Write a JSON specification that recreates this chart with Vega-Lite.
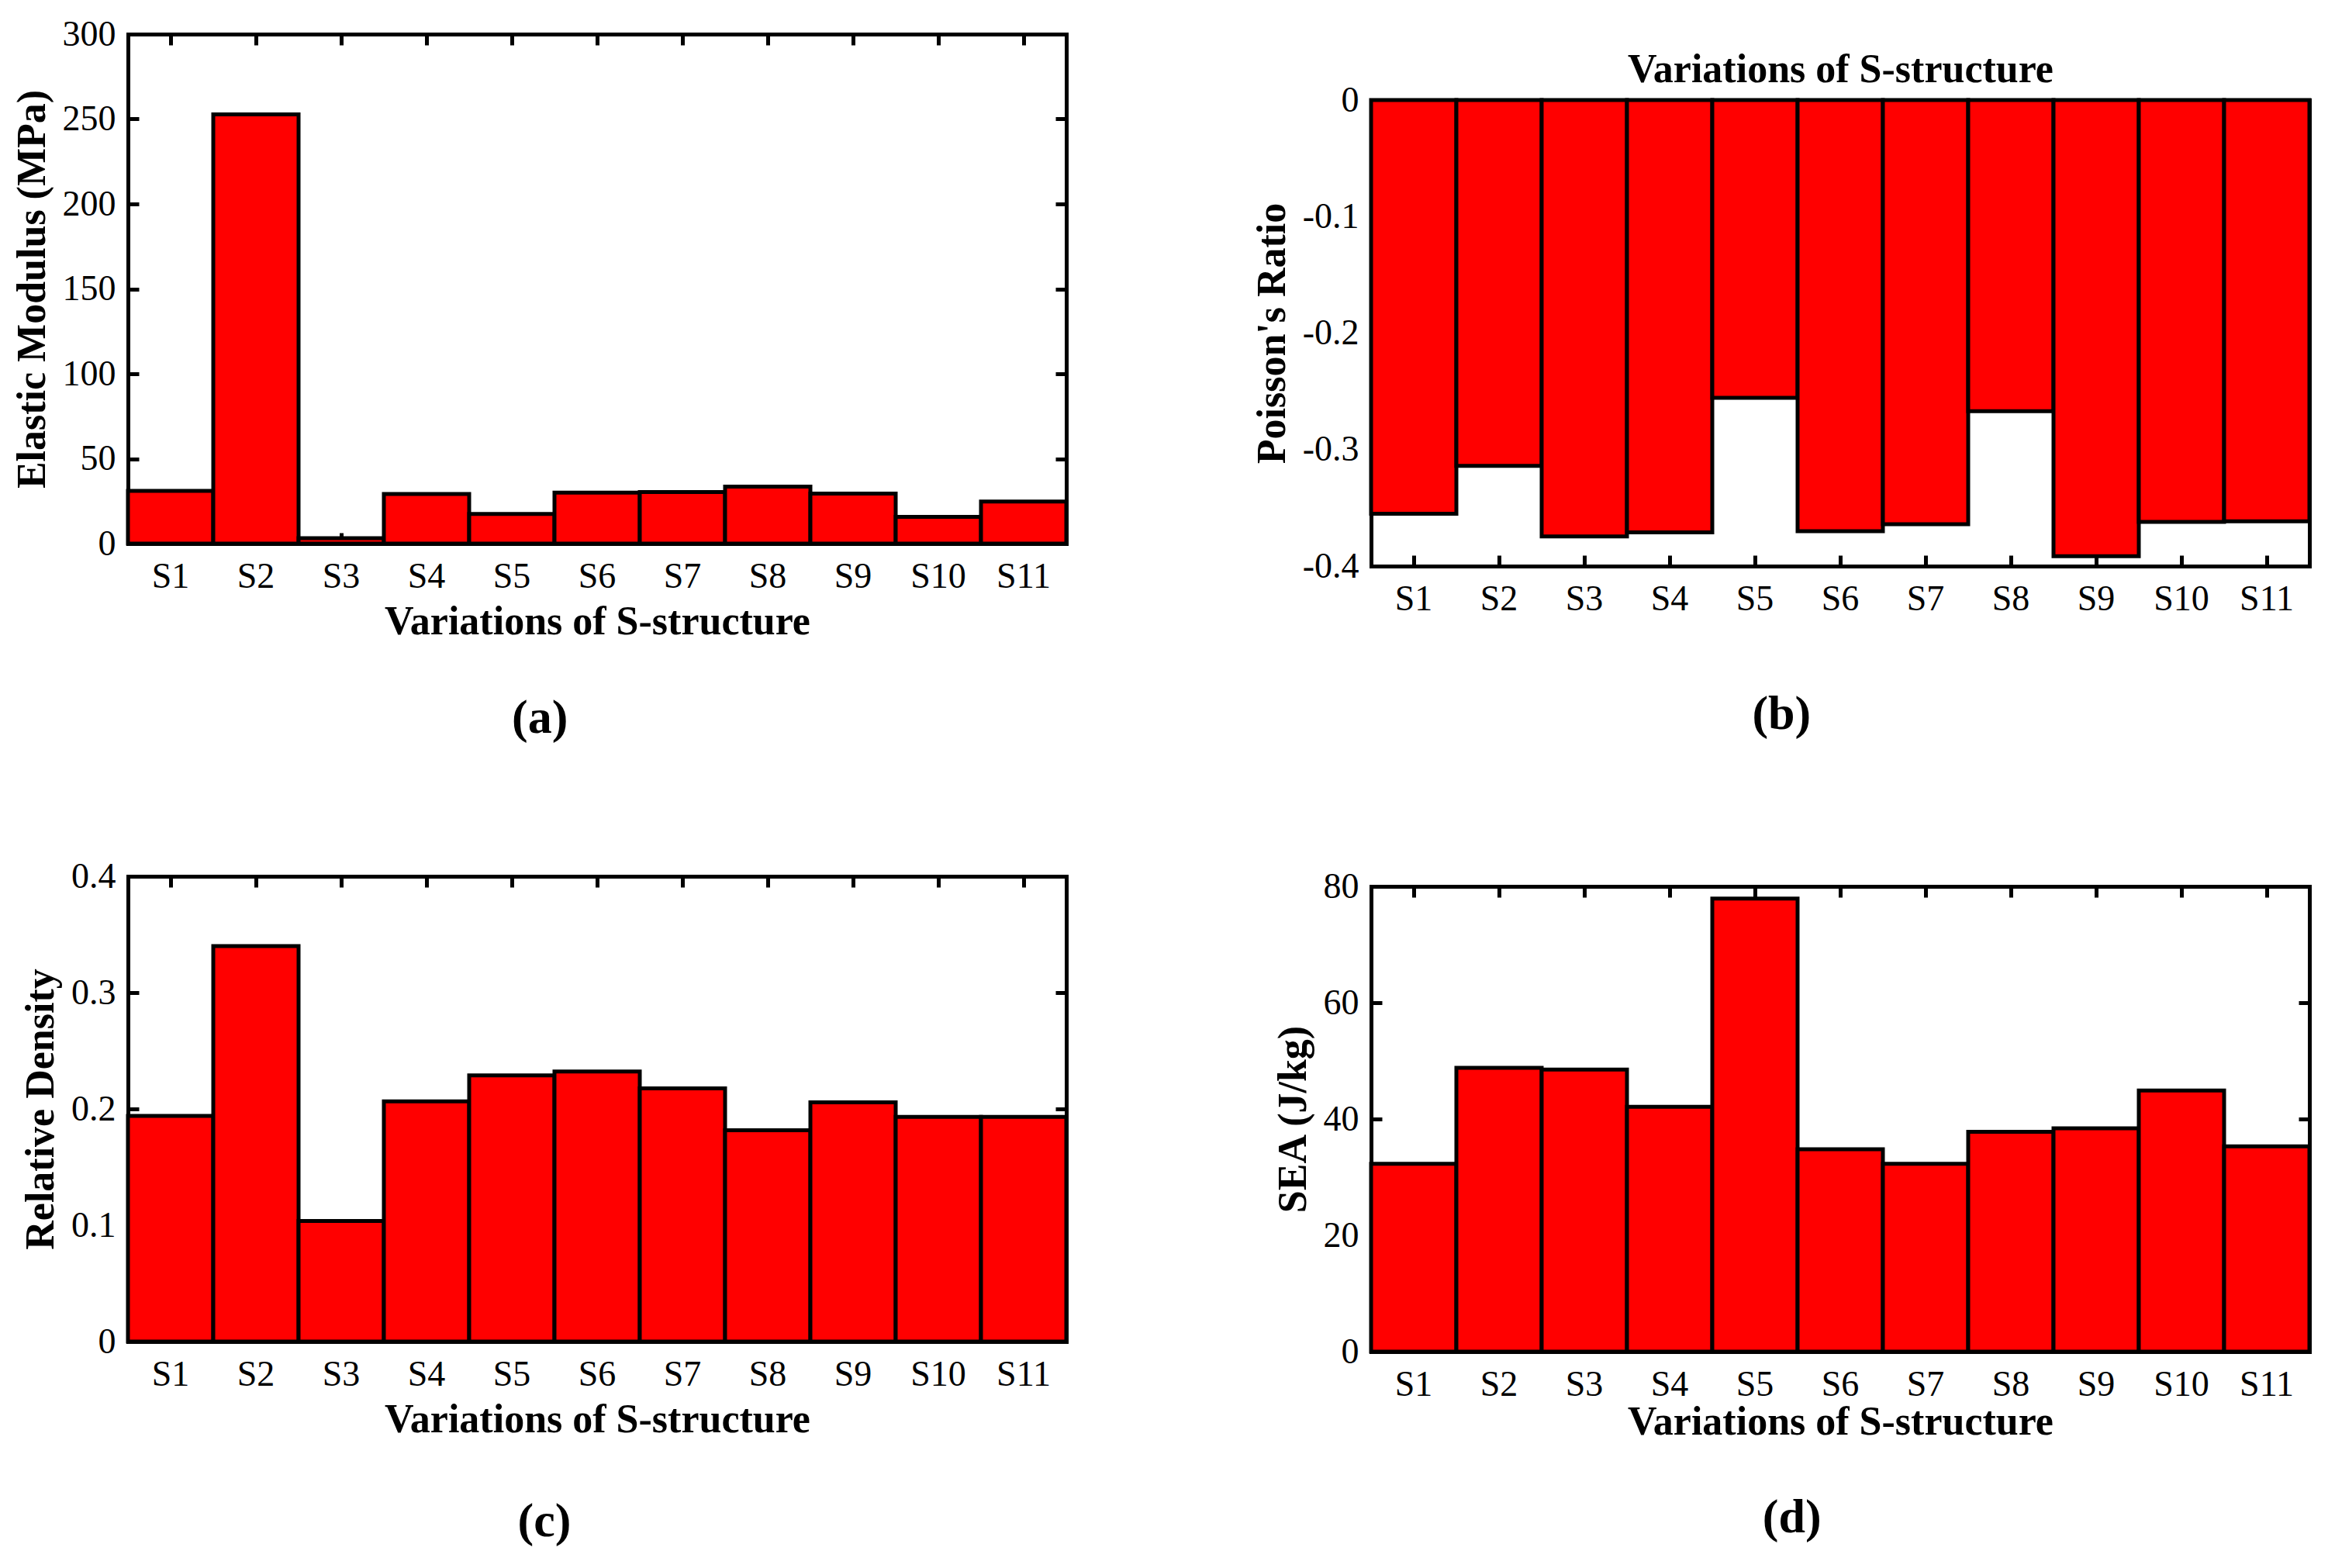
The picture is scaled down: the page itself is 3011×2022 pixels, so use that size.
{
  "$schema": "https://vega.github.io/schema/vega-lite/v6.json",
  "padding": {"left": 15, "top": 21, "right": 5, "bottom": 5},
  "background": "white",
  "datasets": {
    "sv": [
      {"s": "S1", "E": 31, "nu": -0.355, "rho": 0.194, "sea": 32.3},
      {"s": "S2", "E": 252.7, "nu": -0.314, "rho": 0.340, "sea": 48.8},
      {"s": "S3", "E": 3.2, "nu": -0.3745, "rho": 0.1036, "sea": 48.5},
      {"s": "S4", "E": 29.2, "nu": -0.371, "rho": 0.2065, "sea": 42.1},
      {"s": "S5", "E": 17.5, "nu": -0.2556, "rho": 0.2289, "sea": 77.9},
      {"s": "S6", "E": 30, "nu": -0.370, "rho": 0.2322, "sea": 34.8},
      {"s": "S7", "E": 30.4, "nu": -0.364, "rho": 0.2177, "sea": 32.3},
      {"s": "S8", "E": 33.6, "nu": -0.267, "rho": 0.1816, "sea": 37.8},
      {"s": "S9", "E": 29.5, "nu": -0.3915, "rho": 0.2056, "sea": 38.4},
      {"s": "S10", "E": 15.8, "nu": -0.362, "rho": 0.1932, "sea": 44.9},
      {"s": "S11", "E": 24.8, "nu": -0.3615, "rho": 0.1932, "sea": 35.3}
    ]
  },
  "data": {"name": "sv"},
  "spacing": 236,
  "hconcat": [
    {
      "columns": 1,
      "spacing": 150,
      "concat": [
        {
          "width": 1210,
          "height": 657,
          "title": {"text": "(a)", "offset": 69},
          "layer": [
            {
              "mark": "bar",
              "encoding": {
                "x": {"field": "s", "type": "nominal",
                  "scale": {"domain": ["S1","S2","S3","S4","S5","S6","S7","S8","S9","S10","S11"], "paddingInner": 0, "paddingOuter": 0},
                  "axis": {"orient": "bottom", "title": "Variations of S-structure", "titlePadding": 10}},
                "y": {"field": "E", "type": "quantitative",
                  "scale": {"domain": [0, 300], "nice": false, "zero": true},
                  "axis": {"orient": "left", "values": [0, 50, 100, 150, 200, 250, 300], "format": "d", "title": "Elastic Modulus (MPa)"}}
              }
            },
            {
              "mark": {"type": "bar", "opacity": 0, "strokeOpacity": 0},
              "encoding": {
                "x": {"field": "s", "type": "nominal", "axis": {"orient": "top", "labels": false, "title": null}},
                "y": {"field": "E", "type": "quantitative", "axis": {"orient": "right", "labels": false, "title": null, "values": [0, 50, 100, 150, 200, 250, 300]}}
              }
            }
          ],
          "resolve": {"axis": {"x": "independent", "y": "independent"}}
        },
        {
          "width": 1210,
          "height": 600,
          "title": {"text": "(c)", "offset": 76},
          "layer": [
            {
              "mark": "bar",
              "encoding": {
                "x": {"field": "s", "type": "nominal",
                  "scale": {"domain": ["S1","S2","S3","S4","S5","S6","S7","S8","S9","S10","S11"], "paddingInner": 0, "paddingOuter": 0},
                  "axis": {"orient": "bottom", "title": "Variations of S-structure", "titlePadding": 10}},
                "y": {"field": "rho", "type": "quantitative",
                  "scale": {"domain": [0, 0.4], "nice": false},
                  "axis": {"orient": "left", "values": [0, 0.1, 0.2, 0.3, 0.4], "labelExpr": "datum.value == 0 ? '0' : format(datum.value, '.1f')", "title": "Relative Density"}}
              }
            },
            {
              "mark": {"type": "bar", "opacity": 0, "strokeOpacity": 0},
              "encoding": {
                "x": {"field": "s", "type": "nominal", "axis": {"orient": "top", "labels": false, "title": null}},
                "y": {"field": "rho", "type": "quantitative", "axis": {"orient": "right", "labels": false, "title": null, "values": [0, 0.1, 0.2, 0.3, 0.4]}}
              }
            }
          ],
          "resolve": {"axis": {"x": "independent", "y": "independent"}}
        }
      ]
    },
    {
      "columns": 1,
      "spacing": 168,
      "align": "none",
      "concat": [
        {
          "columns": 1,
          "spacing": 18,
          "concat": [
            {
              "width": 10,
              "height": 1,
              "data": {"values": []},
              "mark": "point"
            },
            {
              "width": 1210,
              "height": 601,
              "title": {"text": "(b)", "offset": 96},
              "layer": [
                {
                  "mark": "bar",
                  "encoding": {
                    "x": {"field": "s", "type": "nominal",
                      "scale": {"domain": ["S1","S2","S3","S4","S5","S6","S7","S8","S9","S10","S11"], "paddingInner": 0, "paddingOuter": 0},
                      "axis": {"orient": "bottom", "title": null}},
                    "y": {"field": "nu", "type": "quantitative",
                      "scale": {"domain": [-0.4, 0], "nice": false},
                      "axis": {"orient": "left", "values": [-0.4, -0.3, -0.2, -0.1, 0], "labelExpr": "datum.value == 0 ? '0' : '-' + format(abs(datum.value), '.1f')", "title": "Poisson's Ratio"}}
                  }
                },
                {
                  "mark": {"type": "bar", "opacity": 0, "strokeOpacity": 0},
                  "encoding": {
                    "x": {"field": "s", "type": "nominal", "axis": {"orient": "top", "labels": false, "title": "Variations of S-structure", "titlePadding": 10}},
                    "y": {"field": "nu", "type": "quantitative", "axis": {"orient": "right", "labels": false, "title": null, "values": [-0.4, -0.3, -0.2, -0.1, 0]}}
                  }
                }
              ],
              "resolve": {"axis": {"x": "independent", "y": "independent"}}
            }
          ]
        },
        {
          "width": 1210,
          "height": 600,
          "title": {"text": "(d)", "offset": 68},
          "layer": [
            {
              "mark": "bar",
              "encoding": {
                "x": {"field": "s", "type": "nominal",
                  "scale": {"domain": ["S1","S2","S3","S4","S5","S6","S7","S8","S9","S10","S11"], "paddingInner": 0, "paddingOuter": 0},
                  "axis": {"orient": "bottom", "title": "Variations of S-structure", "titlePadding": 0}},
                "y": {"field": "sea", "type": "quantitative",
                  "scale": {"domain": [0, 80], "nice": false},
                  "axis": {"orient": "left", "values": [0, 20, 40, 60, 80], "format": "d", "title": "SEA (J/kg)"}}
              }
            },
            {
              "mark": {"type": "bar", "opacity": 0, "strokeOpacity": 0},
              "encoding": {
                "x": {"field": "s", "type": "nominal", "axis": {"orient": "top", "labels": false, "title": null}},
                "y": {"field": "sea", "type": "quantitative", "axis": {"orient": "right", "labels": false, "title": null, "values": [0, 20, 40, 60, 80]}}
              }
            }
          ],
          "resolve": {"axis": {"x": "independent", "y": "independent"}}
        }
      ]
    }
  ],
  "config": {
    "view": {"stroke": null},
    "bar": {"fill": "#ff0000", "stroke": "black", "strokeWidth": 5},
    "axis": {
      "grid": false,
      "zindex": 1,
      "domainColor": "black",
      "domainWidth": 5,
      "domainCap": "square",
      "tickColor": "black",
      "tickWidth": 5,
      "tickSize": -14,
      "labelFont": "Liberation Serif",
      "labelFontSize": 46,
      "labelColor": "black",
      "labelAngle": 0,
      "labelOverlap": false,
      "titleFont": "Liberation Serif",
      "titleFontSize": 52,
      "titleFontWeight": "bold",
      "titleColor": "black"
    },
    "axisX": {"labelPadding": 34},
    "axisY": {"labelPadding": 30, "titlePadding": 12},
    "title": {
      "orient": "bottom",
      "anchor": "middle",
      "frame": "bounds",
      "font": "Liberation Serif",
      "fontSize": 62,
      "fontWeight": "bold",
      "color": "black"
    }
  }
}
